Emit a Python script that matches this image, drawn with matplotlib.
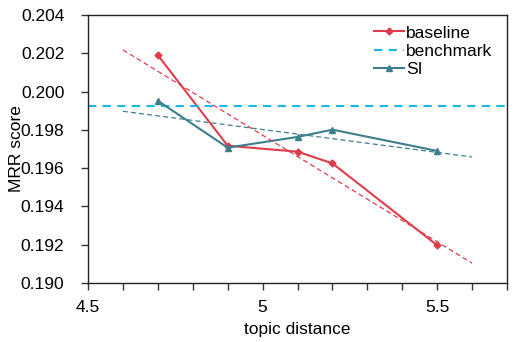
import numpy as np
import matplotlib
matplotlib.use("Agg")
import matplotlib.pyplot as plt
from matplotlib.ticker import MultipleLocator

plt.rcParams['font.family'] = ['Liberation Sans', 'DejaVu Sans']

x = [4.7, 4.9, 5.1, 5.2, 5.5]
baseline = [0.2019, 0.19717, 0.19686, 0.19625, 0.19197]
si = [0.19952, 0.19707, 0.19763, 0.19801, 0.19690]
benchmark = 0.19925
trend_x = [4.6, 5.6]

red = '#E03C4A'
teal = '#3C7F8E'
cyan = '#1BB6EC'

fs = 12.5

fig = plt.figure(figsize=(5.27, 3.42), dpi=100)
ax = fig.add_axes([88/527, 1 - 283/342, (507-88)/527, (283-15)/342])

ax.plot(x, baseline, color=red, lw=1.5, marker='D', ms=3.5, label='baseline')
ax.axhline(benchmark, color=cyan, lw=1.5, ls=(0, (4, 3)), label='benchmark')
ax.plot(x, si, color=teal, lw=1.5, marker='^', ms=5, label='SI')

for ys, c in [(baseline, red), (si, teal)]:
    p = np.polyfit(x, ys, 1)
    tx = np.array(trend_x)
    ax.plot(tx, np.polyval(p, tx), color=c, lw=0.9, ls=(0, (4, 2.5)))

ax.set_xlim(4.5, 5.7)
ax.set_ylim(0.190, 0.204)
ax.set_xticks([4.5, 5, 5.5])
ax.set_xticklabels(['4.5', '5', '5.5'])
ax.xaxis.set_minor_locator(MultipleLocator(0.1))
ax.yaxis.set_major_locator(MultipleLocator(0.002))
ax.yaxis.set_major_formatter(matplotlib.ticker.FormatStrFormatter('%.3f'))
ax.tick_params(axis='both', which='both', direction='out', length=5, width=1, labelsize=fs, color='#333333')
ax.tick_params(axis='x', which='major', pad=7)
ax.tick_params(axis='y', which='major', pad=12)
for s in ax.spines.values():
    s.set_linewidth(1)
    s.set_color('#222222')

ax.set_xlabel('topic distance', fontsize=fs, labelpad=5)
ax.set_ylabel('MRR score', fontsize=fs)
ax.yaxis.set_label_coords(-0.152, 0.5)

ax.legend(loc='upper right', bbox_to_anchor=(0.99, 1.0), frameon=False, fontsize=fs,
          handlelength=1.75, handletextpad=0.1, labelspacing=0.18, borderaxespad=0.2)

fig.savefig('out.png', dpi=100)
